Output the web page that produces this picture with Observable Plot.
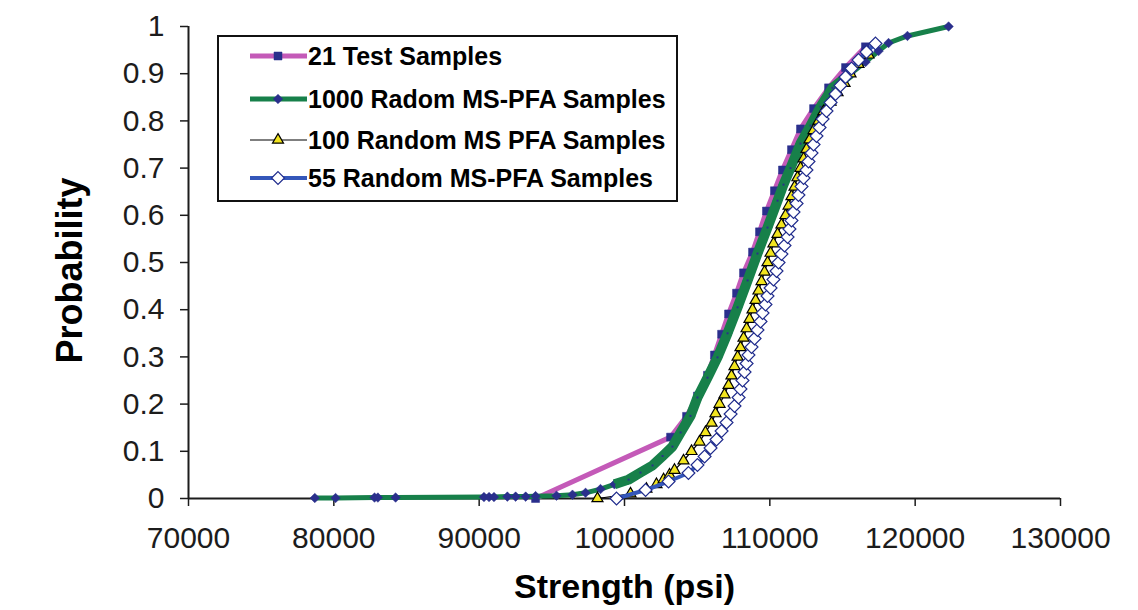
<!DOCTYPE html>
<html><head><meta charset="utf-8">
<script src="https://cdn.jsdelivr.net/npm/d3@7"></script>
<script src="https://cdn.jsdelivr.net/npm/@observablehq/plot@0.6"></script>
<style>
html,body{margin:0;padding:0;background:#fff;}
#wrap{position:relative;width:1138px;height:610px;overflow:hidden;background:#fff;}
#legend{position:absolute;left:217px;top:35px;}
</style></head><body><div id="wrap"></div>
<script>
// ---------- data ----------
const xTicks = [70000, 80000, 90000, 100000, 110000, 120000, 130000];
const yTicks = [0, 0.1, 0.2, 0.3, 0.4, 0.5, 0.6, 0.7, 0.8, 0.9, 1];
const seriesNames = ["21 Test Samples", "1000 Radom MS-PFA Samples", "100 Random MS PFA Samples", "55 Random MS-PFA Samples"];

// 21 Test Samples
const test21Strength = [93880, 103170, 104270, 105020, 105710, 106190, 106680, 107160, 107710, 108190, 108810,
  109290, 109770, 110320, 110870, 111490, 112110, 113010, 114040, 115210, 116580];
const test21Prob = [0, 0.130, 0.174, 0.217, 0.261, 0.304, 0.348, 0.391, 0.435, 0.478, 0.522,
  0.565, 0.609, 0.652, 0.696, 0.739, 0.783, 0.826, 0.870, 0.913, 0.957];

// 1000 Radom MS-PFA Samples
const ms1000Strength = [78690, 80120, 82800, 83030, 84250, 90330, 90680, 91020, 91940, 92510, 93200, 93880,
  95320, 96420, 97320, 98350, 99310, 100280, 101100, 101930, 102620, 103300, 103860, 104540, 105020,
  105710, 106400, 107090, 107780, 108470, 109150, 109840, 110530, 110940, 111420, 112110, 112800,
  113490, 114310, 115550, 116590, 117480, 118170, 119470, 122300];
const ms1000Prob = [0.001, 0.001, 0.002, 0.002, 0.002, 0.003, 0.003, 0.003, 0.004, 0.004, 0.004, 0.005,
  0.006, 0.008, 0.012, 0.02, 0.03, 0.04, 0.055, 0.07, 0.09, 0.11, 0.14, 0.175, 0.214,
  0.256, 0.299, 0.35, 0.405, 0.462, 0.519, 0.574, 0.631, 0.665, 0.7, 0.752, 0.79,
  0.83, 0.87, 0.9, 0.925, 0.948, 0.965, 0.98, 1.0];

// 100 Random MS PFA Samples
const ms100Strength = [98140, 100410, 101510, 102200, 102690, 103100, 103440, 104060, 104610, 105160, 105570,
  105990, 106260, 106540, 106880, 107160, 107360, 107570, 107780, 107980, 108190, 108400, 108600, 108810,
  109020, 109220, 109430, 109630, 109840, 110050, 110250, 110530, 110800, 111080, 111290, 111490, 111700,
  111900, 112110, 112320, 112520, 112730, 113010, 113350, 113690, 114180, 114660, 115140, 115550, 116100, 116790];
const ms100Prob = [0, 0.01, 0.02, 0.03, 0.04, 0.05, 0.06, 0.08, 0.10, 0.12, 0.14,
  0.16, 0.18, 0.20, 0.22, 0.24, 0.26, 0.28, 0.30, 0.32, 0.34, 0.36, 0.38, 0.40,
  0.42, 0.44, 0.46, 0.48, 0.50, 0.52, 0.54, 0.56, 0.58, 0.60, 0.62, 0.64, 0.66,
  0.68, 0.70, 0.72, 0.74, 0.76, 0.78, 0.80, 0.82, 0.84, 0.86, 0.88, 0.90, 0.92, 0.94];

// 55 Random MS-PFA Samples
const ms55Strength = [99450, 101450, 103030, 104400, 105020, 105510, 105920, 106330, 106680, 107020, 107300,
  107570, 107850, 107980, 108120, 108260, 108400, 108530, 108740, 108950, 109150, 109360, 109500, 109700,
  109840, 110050, 110250, 110460, 110600, 110800, 111010, 111220, 111350, 111490, 111630, 111840, 111970,
  112180, 112320, 112520, 112660, 112870, 113010, 113210, 113420, 113630, 113900, 114180, 114520, 114860,
  115210, 115620, 116100, 116650, 117270];
const ms55Prob = [0, 0.018, 0.036, 0.054, 0.071, 0.089, 0.107, 0.125, 0.143, 0.161, 0.179,
  0.196, 0.214, 0.232, 0.250, 0.268, 0.286, 0.304, 0.321, 0.339, 0.357, 0.375, 0.393, 0.411,
  0.429, 0.446, 0.464, 0.482, 0.500, 0.518, 0.536, 0.554, 0.571, 0.589, 0.607, 0.625, 0.643,
  0.661, 0.679, 0.696, 0.714, 0.732, 0.750, 0.768, 0.786, 0.804, 0.821, 0.839, 0.857, 0.875,
  0.893, 0.911, 0.929, 0.946, 0.964];

// ---------- build tables ----------
const zip = (xs, ys) => xs.map((x, i) => ({x, y: ys[i]}));
const d21 = zip(test21Strength, test21Prob);
const d1000 = zip(ms1000Strength, ms1000Prob);
const d100 = zip(ms100Strength, ms100Prob);
const d55 = zip(ms55Strength, ms55Prob);
const d1000mid = d1000.filter(d => d.y >= 0.03 && d.y <= 0.9);

const FONT = "'Liberation Sans', Arial, sans-serif";
const C = {
  magenta: "#c45ab8", navy: "#2a2f8c", green: "#17804a", blue: "#3457ba",
  yellow: "#f2e41e", dnavy: "#1e2a8c", axis: "#1c1c1c"
};

const chart = Plot.plot({
  width: 1138, height: 610,
  marginLeft: 188, marginRight: 78, marginTop: 26, marginBottom: 112,
  style: {fontFamily: FONT, background: "#fff", overflow: "visible"},
  x: {domain: [70000, 130000]},
  y: {domain: [0, 1]},
  marks: [
    Plot.axisX(xTicks, {tickSize: 8, tickPadding: 20, fontSize: 30, tickFormat: d => String(d),
      color: C.axis, strokeWidth: 1.5, label: null}),
    Plot.axisY(yTicks, {tickSize: 8, tickPadding: 16, fontSize: 30, tickFormat: d => String(d),
      color: C.axis, strokeWidth: 1.5, label: null}),
    Plot.ruleY([0], {stroke: C.axis, strokeWidth: 2}),
    Plot.ruleX([70000], {stroke: C.axis, strokeWidth: 2}),
    Plot.text(["Strength (psi)"], {frameAnchor: "bottom", dy: 99, lineAnchor: "bottom",
      fontSize: 34, fontWeight: "bold", fill: "#000"}),
    Plot.text(["Probability"], {frameAnchor: "left", textAnchor: "middle", dx: -118, dy: 8, rotate: -90,
      fontSize: 36, fontWeight: "bold", fill: "#000"}),

    // 21 test samples
    Plot.line(d21, {x: "x", y: "y", stroke: C.magenta, strokeWidth: 5, strokeLinejoin: "round"}),
    Plot.dot(d21, {x: "x", y: "y", symbol: "square", r: 4.5, fill: C.navy, stroke: C.navy, strokeWidth: 0.5}),

    // 1000 samples
    Plot.line(d1000, {x: "x", y: "y", stroke: C.green, strokeWidth: 5, strokeLinejoin: "round"}),
    Plot.dot(d1000, {x: "x", y: "y", symbol: "diamond2", r: 4.3, fill: C.navy, stroke: C.navy, strokeWidth: 0.5}),
    Plot.line(d1000mid, {x: "x", y: "y", stroke: C.green, strokeWidth: 10, strokeLinejoin: "round", strokeLinecap: "butt"}),
    Plot.dot(d1000mid, {x: "x", y: "y", symbol: "square", r: 1.1, fill: C.navy}),

    // 100 samples
    Plot.line(d100, {x: "x", y: "y", stroke: "#000", strokeWidth: 1.2}),
    Plot.dot(d100, {x: "x", y: "y", symbol: "triangle", r: 4.1, fill: C.yellow, stroke: "#000", strokeWidth: 1.2}),

    // 55 samples
    Plot.line(d55, {x: "x", y: "y", stroke: C.blue, strokeWidth: 4, strokeLinejoin: "round"}),
    Plot.dot(d55, {x: "x", y: "y", symbol: "diamond2", r: 5.8, fill: "#fff", stroke: C.dnavy, strokeWidth: 1.2})
  ]
});
document.getElementById("wrap").appendChild(chart);

// ---------- legend ----------
const LW = 461, LH = 167;
const leg = d3.select("#wrap").append("svg").attr("id", "legend")
  .attr("width", LW).attr("height", LH);
leg.append("rect").attr("x", 1).attr("y", 1).attr("width", LW - 2).attr("height", LH - 2)
  .attr("fill", "#fff").attr("stroke", "#111").attr("stroke-width", 2);
const legendStyles = [
  {line: C.magenta, lw: 5, sym: d3.symbolSquare, r: 4.5, fill: C.navy, stroke: C.navy, sw: 0.5},
  {line: C.green, lw: 5, sym: d3.symbolDiamond2, r: 4.3, fill: C.navy, stroke: C.navy, sw: 0.5},
  {line: "#000", lw: 1.2, sym: d3.symbolTriangle, r: 4.1, fill: C.yellow, stroke: "#000", sw: 1.2},
  {line: C.blue, lw: 4, sym: d3.symbolDiamond2, r: 5.8, fill: "#fff", stroke: C.dnavy, sw: 1.2}
];
const rowY = [21, 64, 105, 143];
seriesNames.forEach((name, i) => {
  const s = legendStyles[i], y = rowY[i];
  const g = leg.append("g");
  g.append("line").attr("x1", 33).attr("x2", 90).attr("y1", y).attr("y2", y)
    .attr("stroke", s.line).attr("stroke-width", s.lw);
  g.append("path").attr("d", d3.symbol(s.sym, Math.PI * s.r * s.r)())
    .attr("transform", `translate(61,${y})`)
    .attr("fill", s.fill).attr("stroke", s.stroke).attr("stroke-width", s.sw);
  g.append("text").attr("x", 91).attr("y", y).attr("dy", "0.36em")
    .attr("font-family", FONT).attr("font-weight", "bold").attr("font-size", 25)
    .attr("fill", "#000").text(name);
});
</script></body></html>
